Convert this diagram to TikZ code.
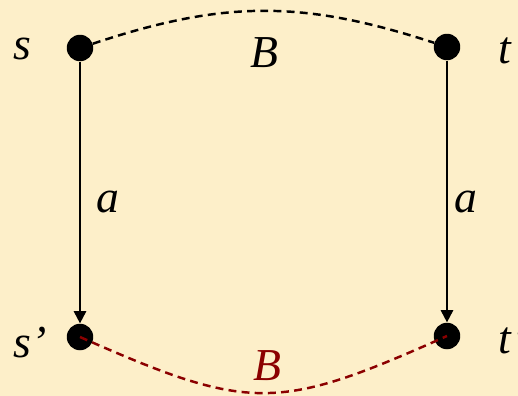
\documentclass[tikz,border=0pt]{standalone}
\usepackage{fontspec}
\setmainfont{Liberation Serif}
\usetikzlibrary{arrows.meta}
\definecolor{paper}{HTML}{FDEFC9}
\definecolor{ink}{HTML}{000000}
\definecolor{bisim}{HTML}{8B0000}
\tikzset{
  every node/.style={font=\fontsize{26}{30}\selectfont\itshape, text=ink},
  dot/.style={circle, fill=ink, minimum size=0.53cm, inner sep=0pt},
  lbl/.style={anchor=base, inner sep=0pt},
  arr/.style={-{Triangle[length=7pt, width=7pt]}, draw=ink, line width=1.1pt},
  link/.style={draw=ink, line width=1.4pt, dash pattern=on 4.5pt off 3pt},
  redlink/.style={link, draw=bisim},
}

\begin{document}
\begin{tikzpicture}[x=0.02cm, y=-0.02cm]
  \fill[paper] (0,0) rectangle (518,396);
  \useasboundingbox (0,0) rectangle (518,396);

  % states
  \node[dot] (s) at (80,48) {};
  \node[dot] (t) at (447,47) {};
  \node[dot] (s2) at (80,337) {};
  \node[dot] (t2) at (447,336) {};

  \node[lbl] (sname) at (22,59) {s};
  \node[lbl] (tname) at (505,63) {t};
  \node[lbl, anchor=base west] (s2name) at (13,357) {s’};
  \node[lbl, anchor=base west] (t2name) at (498,353) {t’};

  % transitions
  \draw[arr] (s) -- (s2);
  \draw[arr] (t) -- (t2);
  \node[lbl] (la) at (108,212) {a};
  \node[lbl] (ra) at (466,212) {a};

  % relation B
  \draw[link] (s) .. controls (224,0) and (303,0) .. (t);
  \node[lbl] (btop) at (264,67) {B};
  \draw[redlink] (s2.center) .. controls (250,412) and (277,412) .. (t2.center);
  \node[lbl, text=bisim] (bbot) at (267,380) {B};
\end{tikzpicture}
\end{document}
